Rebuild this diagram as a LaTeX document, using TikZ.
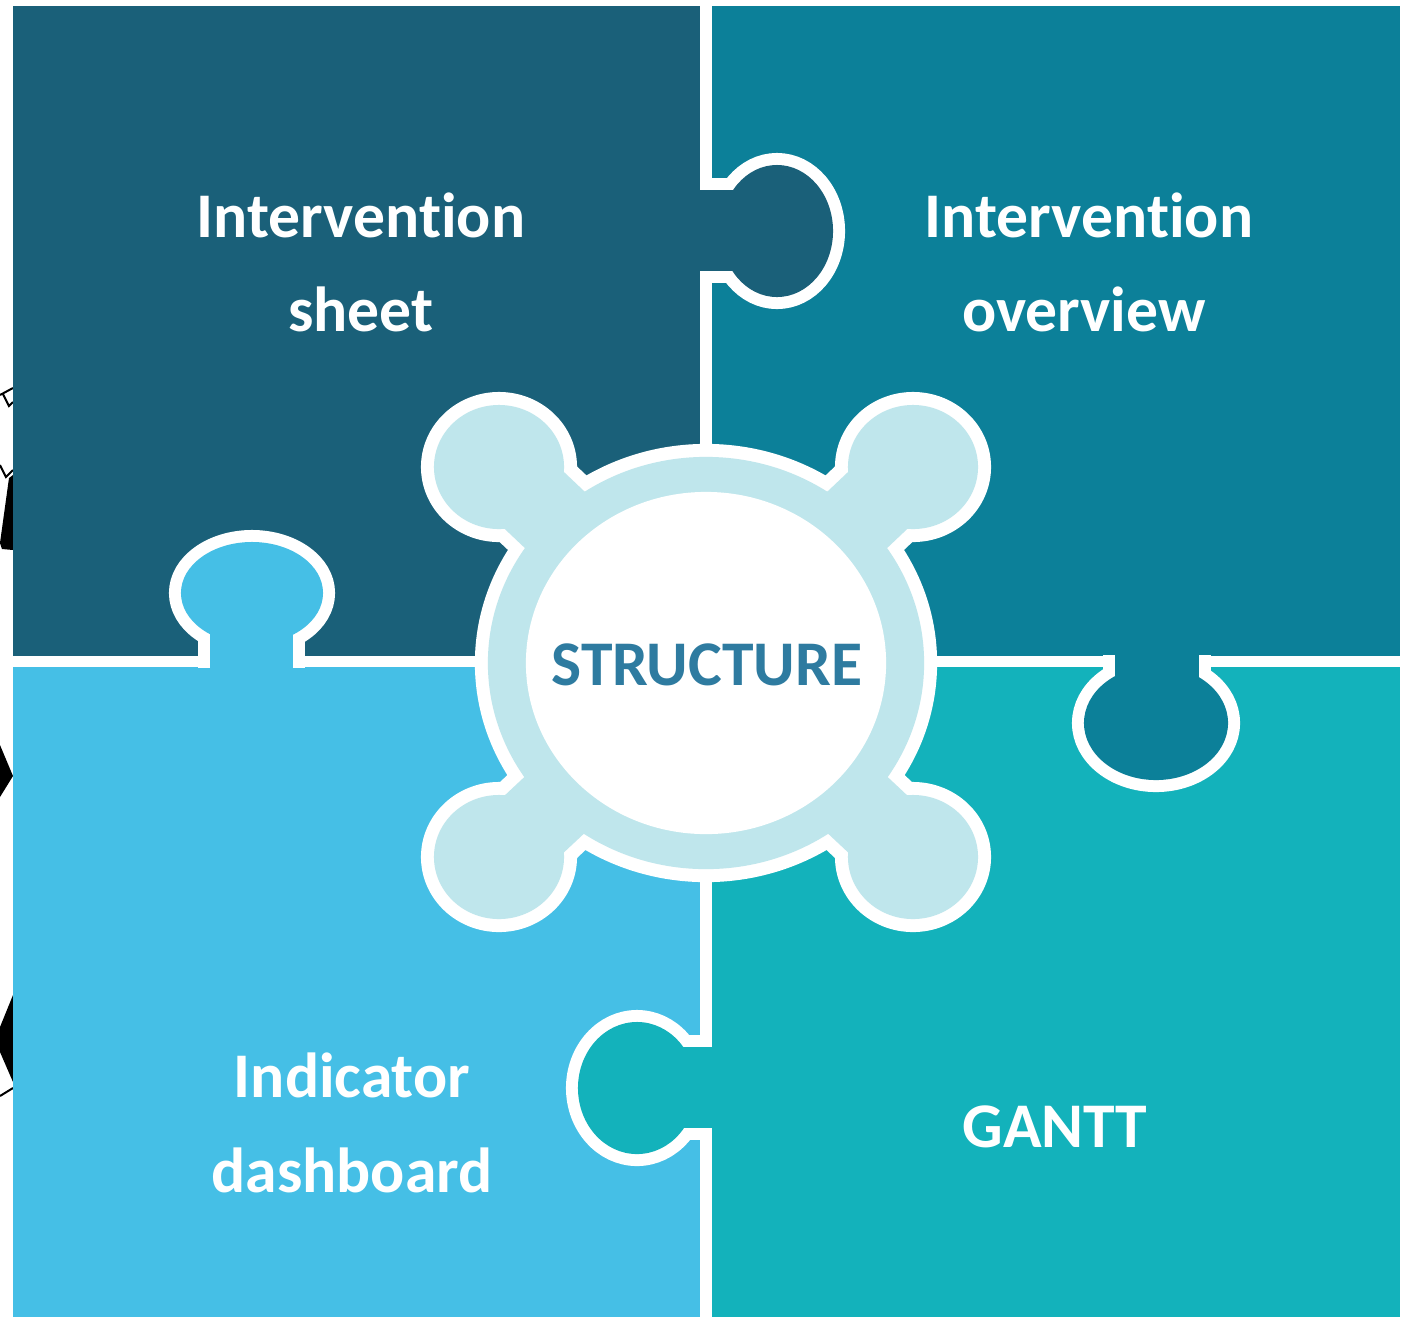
\documentclass[tikz,border=0pt]{standalone}
\usepackage{fontspec}
\setmainfont{Carlito}[Ligatures=NoCommon]
\definecolor{tlc}{HTML}{1A6079}
\definecolor{trc}{HTML}{0C8099}
\definecolor{blc}{HTML}{45BFE6}
\definecolor{brc}{HTML}{13B2BB}
\definecolor{ringc}{HTML}{BFE6EC}
\definecolor{structc}{HTML}{2E7BA0}
\begin{document}
\begin{tikzpicture}[x=0.01cm,y=-0.01cm,
  tabline/.style={draw=white,line width=0.24cm},
  gearline/.style={draw=white,line width=0.26cm,line join=round},
  ringfill/.style={fill=ringc},
  lbl/.style={text=white,font=\fontsize{18.1}{18.1}\selectfont\bfseries,anchor=base,inner sep=0pt},
  artline/.style={draw=black,line width=0.02cm}]
\useasboundingbox (0,0) rectangle (1409,1317);
\fill[white] (0,0) rectangle (1409,1317);

% left-edge fragments
\draw[artline] (0,395) -- (13,388);
\draw[artline] (3,394) -- (9,406) -- (13,402);
\draw[artline] (0,465) -- (6,477) -- (13,470);
\fill[black] (13,475) -- (9,478) -- (0,543) -- (2,549) -- (13,550) -- cycle;
\fill[black] (0,745) -- (13,776) -- (0,797) -- cycle;
\fill[black] (13,995) -- (0,1027) -- (0,1052) -- (13,1082) -- cycle;
\draw[artline] (0,1096) -- (13,1088);

% panels
\fill[tlc] (13,6) rectangle (700,656);
\fill[trc] (712,6) rectangle (1400,656);
\fill[blc] (13,667) rectangle (700,1317);
\fill[brc] (712,667) rectangle (1400,1317);

% tab: top-left into top-right
\draw[tabline] (777,231) ellipse [x radius=0.56cm, y radius=0.66cm];
\draw[tabline] (712,190) rectangle (777,271);
\fill[tlc] (777,231) ellipse [x radius=0.56cm, y radius=0.66cm];
\fill[tlc] (688,190) rectangle (777,271);

% tab: top-right into bottom-right
\draw[tabline] (1156,723) ellipse [x radius=0.72cm, y radius=0.57cm];
\draw[tabline] (1115,667) rectangle (1199,723);
\fill[trc] (1156,723) ellipse [x radius=0.72cm, y radius=0.57cm];
\fill[trc] (1115,645) rectangle (1199,723);

% tab: bottom-left into top-left
\draw[tabline] (252,593) ellipse [x radius=0.71cm, y radius=0.51cm];
\draw[tabline] (210,656) rectangle (293,593);
\fill[blc] (252,593) ellipse [x radius=0.71cm, y radius=0.51cm];
\fill[blc] (210,680) rectangle (293,593);

% tab: bottom-right into bottom-left
\draw[tabline] (637,1088) ellipse [x radius=0.59cm, y radius=0.66cm];
\draw[tabline] (700,1047) rectangle (637,1128);
\fill[brc] (637,1088) ellipse [x radius=0.59cm, y radius=0.66cm];
\fill[brc] (725,1047) rectangle (637,1128);

% central gear
\coordinate (G) at (706,663);
\foreach \st in {gearline,ringfill}{
  \path[\st] (G) ellipse [x radius=2.18cm, y radius=2.06cm];
  \path[\st] (499,467) ellipse [x radius=0.65cm, y radius=0.62cm];
  \path[\st] (913,467) ellipse [x radius=0.65cm, y radius=0.62cm];
  \path[\st] (499,857) ellipse [x radius=0.65cm, y radius=0.62cm];
  \path[\st] (913,857) ellipse [x radius=0.65cm, y radius=0.62cm];
  \path[\st] (527,437) -- (734,633) -- (678,693) -- (471,497) -- cycle;
  \path[\st] (941,497) -- (734,693) -- (678,633) -- (885,437) -- cycle;
  \path[\st] (527,887) -- (734,693) -- (678,633) -- (471,827) -- cycle;
  \path[\st] (941,827) -- (734,633) -- (678,693) -- (885,887) -- cycle;
}
\fill[white] (G) ellipse [x radius=1.80cm, y radius=1.71cm];

% labels
\node[lbl] (t1a) at (361,237) {Intervention};
\node[lbl] (t1b) at (361,331) {sheet};
\node[lbl] (t2a) at (1089,237) {Intervention};
\node[lbl] (t2b) at (1084,331) {overview};
\node[lbl] (t3a) at (352,1097) {Indicator};
\node[lbl] (t3b) at (352,1192) {dashboard};
\node[lbl] (t4) at (1055,1147) {GANTT};
\node[lbl,text=structc] (s) at (707,685) {STRUCTURE};
\end{tikzpicture}
\end{document}
